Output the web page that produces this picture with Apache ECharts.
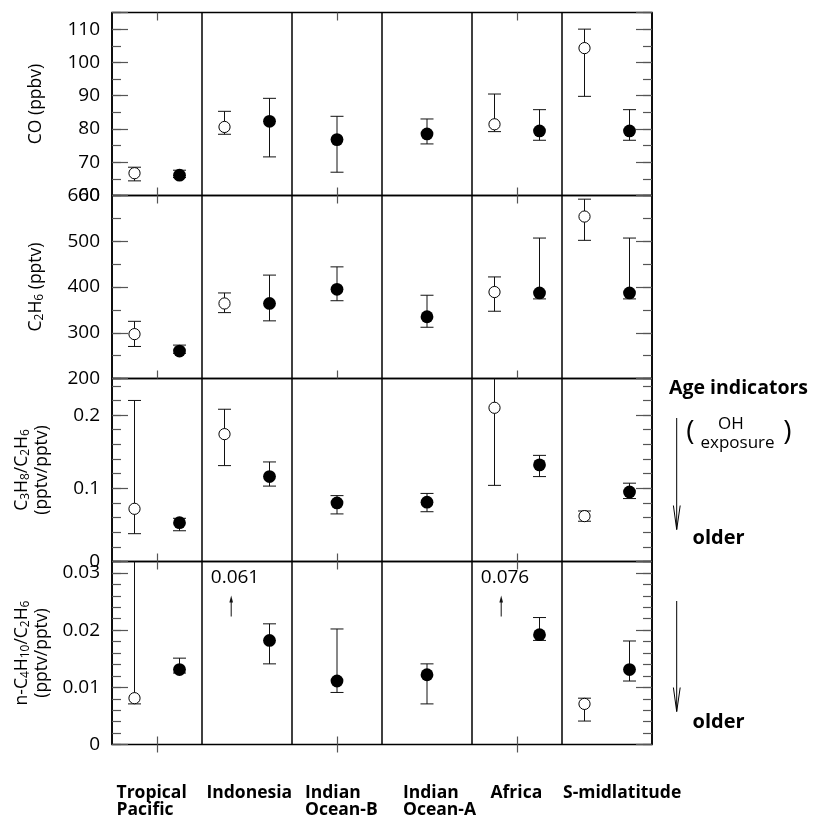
<!DOCTYPE html>
<html><head><meta charset="utf-8">
<script src="https://cdn.jsdelivr.net/npm/echarts@6/dist/echarts.min.js"></script>
<style>html,body{margin:0;padding:0;background:#fff}#c{width:813px;height:819px}</style>
</head><body><div id="c"></div>
<script>
// ---------- data ----------
const regions = ['Tropical\nPacific', 'Indonesia', 'Indian\nOcean-B', 'Indian\nOcean-A', 'Africa', 'S-midlatitude'];
// [value, low, high]; null = not measured
const coOpen     = [[66.7, 64.4, 68.5], [80.6, 78.4, 85.3], null, null, [81.4, 79.2, 90.5], [104.3, 89.8, 110.0]];
const coFilled   = [[66.1, 65.4, 67.6], [82.3, 71.6, 89.2], [76.8, 67.0, 83.8], [78.5, 75.5, 83.0], [79.4, 76.6, 85.8], [79.4, 76.6, 85.8]];
const c2h6Open   = [[297, 270, 325], [364, 344, 387], null, null, [389, 347, 422], [554, 502, 592]];
const c2h6Filled = [[260, 255, 273], [364, 326, 426], [395, 370, 444], [335, 312, 382], [387, 374, 507], [387, 374, 507]];
const c3Open     = [[0.072, 0.038, 0.220], [0.174, 0.131, 0.208], null, null, [0.210, 0.104, 0.30], [0.062, 0.055, 0.069]];
const c3Filled   = [[0.053, 0.042, 0.059], [0.116, 0.103, 0.136], [0.080, 0.065, 0.090], [0.081, 0.068, 0.093], [0.132, 0.116, 0.145], [0.095, 0.086, 0.107]];
const c4Open     = [[0.0081, 0.0071, 0.040], [0.061, 0.061, 0.061], null, null, [0.076, 0.076, 0.076], [0.0071, 0.0041, 0.0081]];
const c4Filled   = [[0.0131, 0.0125, 0.0151], [0.0182, 0.0141, 0.0211], [0.0111, 0.0091, 0.0202], [0.0122, 0.0071, 0.0141], [0.0192, 0.0182, 0.0222], [0.0131, 0.0111, 0.0181]];

const coTicks   = ['60', '70', '80', '90', '100', '110'];
const c2h6Ticks = ['200', '300', '400', '500', '600'];
const c3Ticks   = ['0', '0.1', '0.2'];
const c4Ticks   = ['0', '0.01', '0.02', '0.03'];

const rows = [
  {open: coOpen, filled: coFilled, ticks: coTicks, min: 60, max: 115, major: 10, minor: 5,
   title: '{n|CO (ppbv)}', tx: 36},
  {open: c2h6Open, filled: c2h6Filled, ticks: c2h6Ticks, min: 200, max: 600, major: 100, minor: 50,
   title: '{n|C}{s|2}{n|H}{s|6}{n| (pptv)}', tx: 36},
  {open: c3Open, filled: c3Filled, ticks: c3Ticks, min: 0, max: 0.25, major: 0.1, minor: 0.02,
   title: '{n|C}{s|3}{n|H}{s|8}{n|/C}{s|2}{n|H}{s|6}\n{n|(pptv/pptv)}', tx: 32},
  {open: c4Open, filled: c4Filled, ticks: c4Ticks, min: 0, max: 0.032, major: 0.01, minor: 0.002,
   title: '{n|n-C}{s|4}{n|H}{s|10}{n|/C}{s|2}{n|H}{s|6}\n{n|(pptv/pptv)}', tx: 32}
];

// ---------- layout ----------
const FONT = '"Open Sans", "Noto Sans", sans-serif';
const G_LEFT = 112, G_W = 540, G_TOP = 12.5, G_H = 183;
const labelX = [116.5, 206.5, 305, 403, 490.5, 563];

function fmt(labels) {
  return v => {
    const m = labels.find(l => Math.abs(parseFloat(l) - v) < 1e-9);
    return m === undefined ? '' : m;
  };
}

function renderPoint(params, api) {
  const x = api.value(0), v = api.value(1), lo = api.value(2), hi = api.value(3), kind = api.value(4);
  const cs = params.coordSys;
  const top = cs.y, bot = cs.y + cs.height;
  const clamp = y => Math.max(top, Math.min(bot, y));
  const p = api.coord([x, v]);
  const ink = '#111';
  if (p[1] < top) {
    const ax = p[0] + 6.7;
    return {type: 'group', children: [
      {type: 'line', shape: {x1: ax, y1: top + 55, x2: ax, y2: top + 38}, style: {stroke: ink, lineWidth: 1}},
      {type: 'polygon', shape: {points: [[ax, top + 34], [ax - 1.8, top + 41], [ax + 1.8, top + 41]]}, style: {fill: ink}},
      {type: 'text', style: {text: String(v), x: p[0] + 10.5, y: top + 16, align: 'center', textAlign: 'center',
        verticalAlign: 'middle', textVerticalAlign: 'middle', font: '19px ' + FONT, fill: '#000'}}
    ]};
  }
  const yl = clamp(api.coord([x, lo])[1]);
  const yh = clamp(api.coord([x, hi])[1]);
  const cw = 6.5;
  const children = [
    {type: 'line', shape: {x1: p[0], y1: yl, x2: p[0], y2: yh}, style: {stroke: ink, lineWidth: 1}}
  ];
  if (yh > top + 0.5) children.push({type: 'line', shape: {x1: p[0] - cw, y1: yh, x2: p[0] + cw, y2: yh}, style: {stroke: ink, lineWidth: 1}});
  if (yl < bot - 0.5) children.push({type: 'line', shape: {x1: p[0] - cw, y1: yl, x2: p[0] + cw, y2: yl}, style: {stroke: ink, lineWidth: 1}});
  if (kind === 0) {
    children.push({type: 'circle', shape: {cx: p[0], cy: p[1], r: 5.6}, style: {fill: '#fff', stroke: '#000', lineWidth: 1}});
  } else {
    children.push({type: 'circle', shape: {cx: p[0], cy: p[1], r: 6.4}, style: {fill: '#000'}});
  }
  return {type: 'group', children};
}

const grids = [], xAxes = [], yAxes = [], series = [], graphics = [];
const tickColor = '#555';

rows.forEach((r, i) => {
  const top = G_TOP + i * G_H;
  grids.push({left: G_LEFT, width: G_W, top: top, height: G_H, show: true, borderColor: '#000', borderWidth: 1.5, backgroundColor: 'transparent'});
  const catNames = regions.map(s => s.replace('\n', ' '));
  xAxes.push({type: 'category', gridIndex: i, position: 'bottom', data: catNames, boundaryGap: true,
    axisLine: {show: false}, axisLabel: {show: false},
    axisTick: {show: true, inside: true, alignWithLabel: true, length: 8, lineStyle: {color: tickColor, width: 1.2}},
    splitLine: {show: true, interval: 0, lineStyle: {color: '#000', width: 1.5}}});
  xAxes.push({type: 'category', gridIndex: i, position: 'top', data: catNames, boundaryGap: true,
    axisLine: {show: false}, axisLabel: {show: false},
    axisTick: {show: true, inside: true, alignWithLabel: true, length: 8, lineStyle: {color: tickColor, width: 1.2}},
    splitLine: {show: false}});
  xAxes.push({type: 'value', gridIndex: i, min: 0, max: 6, show: false});
  const base = {type: 'value', gridIndex: i, min: r.min, max: r.max, axisLine: {show: false}, splitLine: {show: false}};
  yAxes.push(Object.assign({}, base, {position: 'left', interval: r.major,
    axisTick: {show: true, inside: true, length: 16, lineStyle: {color: tickColor, width: 1.2}},
    axisLabel: {show: true, margin: 12, color: '#000', fontSize: 19, fontFamily: FONT, formatter: fmt(r.ticks)}}));
  yAxes.push(Object.assign({}, base, {position: 'left', interval: r.minor,
    axisTick: {show: true, inside: true, length: 9, lineStyle: {color: tickColor, width: 1.2}}, axisLabel: {show: false}}));
  yAxes.push(Object.assign({}, base, {position: 'right', interval: r.major,
    axisTick: {show: true, inside: true, length: 16, lineStyle: {color: tickColor, width: 1.2}}, axisLabel: {show: false}}));
  yAxes.push(Object.assign({}, base, {position: 'right', interval: r.minor,
    axisTick: {show: true, inside: true, length: 9, lineStyle: {color: tickColor, width: 1.2}}, axisLabel: {show: false}}));

  const pts = [];
  regions.forEach((_, j) => {
    const o = r.open[j], f = r.filled[j];
    if (o && f) {
      pts.push([j + 0.25, o[0], o[1], o[2], 0]);
      pts.push([j + 0.75, f[0], f[1], f[2], 1]);
    } else if (f) {
      pts.push([j + 0.5, f[0], f[1], f[2], 1]);
    } else if (o) {
      pts.push([j + 0.5, o[0], o[1], o[2], 0]);
    }
  });
  series.push({type: 'custom', xAxisIndex: i * 3 + 2, yAxisIndex: i * 4, data: pts,
    encode: {x: 0, y: 1}, renderItem: renderPoint, silent: true, z: 5});

  graphics.push({type: 'text', x: r.tx, y: top + G_H / 2, rotation: Math.PI / 2,
    style: {text: r.title, align: 'center', verticalAlign: 'middle', textAlign: 'center', textVerticalAlign: 'middle',
      fill: '#000',
      rich: {
        n: {fontSize: 17.5, fontFamily: FONT, lineHeight: 19.5, verticalAlign: 'middle', fill: '#000'},
        s: {fontSize: 12, fontFamily: FONT, lineHeight: 19.5, verticalAlign: 'bottom', fill: '#000'}
      }}});
});

// category labels under the chart
regions.forEach((name, j) => {
  graphics.push({type: 'text', x: labelX[j], y: 784,
    style: {text: name, font: 'bold 17.5px ' + FONT, lineHeight: 17.5, fill: '#000', align: 'left', textAlign: 'left',
      verticalAlign: 'top', textVerticalAlign: 'top'}});
});

// age-indicator annotation on the right
function t(text, x, y, font, align) {
  return {type: 'text', x: x, y: y, style: {text: text, font: font, fill: '#000', align: align, textAlign: align,
    verticalAlign: 'middle', textVerticalAlign: 'middle'}};
}
graphics.push(t('Age indicators', 669, 388, 'bold 19.5px ' + FONT, 'left'));
graphics.push(t('(', 690.5, 432, '28px ' + FONT, 'center'));
graphics.push(t('OH', 731, 424, '17px ' + FONT, 'center'));
graphics.push(t('exposure', 737.5, 443, '17px ' + FONT, 'center'));
graphics.push(t(')', 787.5, 432, '28px ' + FONT, 'center'));
graphics.push(t('older', 692.5, 538, 'bold 20px ' + FONT, 'left'));
graphics.push(t('older', 692.5, 722, 'bold 20px ' + FONT, 'left'));
[[418, 529.5], [601, 711.5]].forEach(([y1, y2]) => {
  graphics.push({type: 'line', shape: {x1: 676.7, y1: y1, x2: 676.7, y2: y2}, style: {stroke: '#000', lineWidth: 1}});
  graphics.push({type: 'polyline', shape: {points: [[673.4, y2 - 24], [676.7, y2], [680.2, y2 - 24]]}, style: {stroke: '#000', lineWidth: 1, fill: null}});
});

const chart = echarts.init(document.getElementById('c'), null, {renderer: 'canvas'});
chart.setOption({
  animation: false,
  backgroundColor: '#fff',
  grid: grids,
  xAxis: xAxes,
  yAxis: yAxes,
  series: series,
  graphic: graphics
});
</script>
</body></html>
